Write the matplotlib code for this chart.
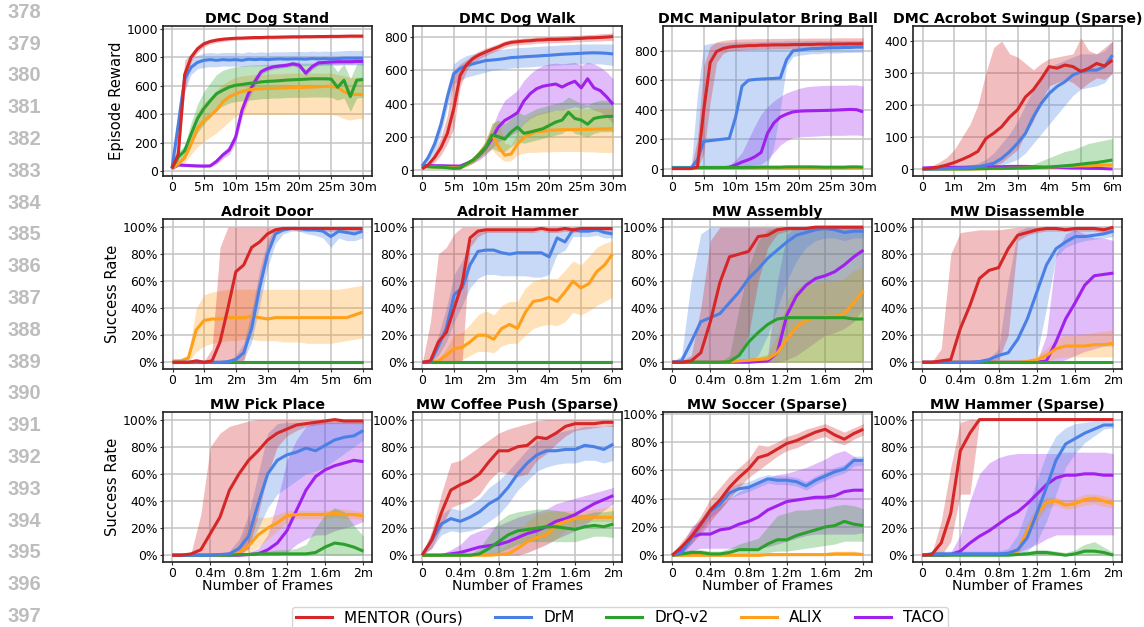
import matplotlib
matplotlib.use("Agg")
import matplotlib.pyplot as plt
from matplotlib.lines import Line2D

# x grids (million frames)
X_30M = [0, 1, 2, 3, 4, 5, 6, 7, 8, 9, 10, 11, 12, 13, 14, 15, 16, 17, 18, 19, 20,
         21, 22, 23, 24, 25, 26, 27, 28, 29, 30]
X_6M = [0, 0.25, 0.5, 0.75, 1, 1.25, 1.5, 1.75, 2, 2.25, 2.5, 2.75, 3, 3.25, 3.5,
        3.75, 4, 4.25, 4.5, 4.75, 5, 5.25, 5.5, 5.75, 6]
X_2M = [0, 0.1, 0.2, 0.3, 0.4, 0.5, 0.6, 0.7, 0.8, 0.9, 1.0, 1.1, 1.2, 1.3, 1.4,
        1.5, 1.6, 1.7, 1.8, 1.9, 2.0]

ZEROS_6M = [0, 0, 0, 0, 0, 0, 0, 0, 0, 0, 0, 0, 0, 0, 0, 0, 0, 0, 0, 0, 0, 0, 0, 0, 0]
ZEROS_2M = [0, 0, 0, 0, 0, 0, 0, 0, 0, 0, 0, 0, 0, 0, 0, 0, 0, 0, 0, 0, 0]

TICKS_30M = [0, 5, 10, 15, 20, 25, 30]
LABELS_30M = ["0", "5m", "10m", "15m", "20m", "25m", "30m"]
TICKS_6M = [0, 1, 2, 3, 4, 5, 6]
LABELS_6M = ["0", "1m", "2m", "3m", "4m", "5m", "6m"]
TICKS_2M = [0, 0.4, 0.8, 1.2, 1.6, 2.0]
LABELS_2M = ["0", "0.4m", "0.8m", "1.2m", "1.6m", "2m"]
TICKS_PCT = [0, 20, 40, 60, 80, 100]
LABELS_PCT = ["0%", "20%", "40%", "60%", "80%", "100%"]

METHODS = ["MENTOR (Ours)", "DrM", "DrQ-v2", "ALIX", "TACO"]
COLORS = {
    "MENTOR (Ours)": "#d62728",
    "DrM": "#4a80e6",
    "DrQ-v2": "#2ca02c",
    "ALIX": "#ff9f1a",
    "TACO": "#a020f0",
}
DRAW_ORDER = ["TACO", "ALIX", "DrQ-v2", "DrM", "MENTOR (Ours)"]

# ---- DMC Dog Stand ----
stand_mentor = [20, 120, 680, 800, 860, 895, 912, 922, 928, 932, 935, 936, 938, 940, 940, 942, 942, 943, 944, 945, 945, 946, 946, 947, 947, 948, 948, 949, 950, 950, 950]
stand_mentor_lo = [15, 70, 560, 770, 835, 875, 895, 905, 912, 918, 922, 924, 926, 928, 928, 930, 930, 931, 932, 933, 933, 934, 934, 935, 935, 936, 936, 937, 938, 938, 938]
stand_mentor_hi = [30, 200, 780, 830, 885, 915, 928, 936, 942, 945, 948, 948, 950, 952, 952, 954, 954, 955, 956, 957, 957, 958, 958, 959, 959, 960, 960, 961, 962, 962, 962]
stand_drm = [20, 330, 650, 730, 765, 780, 785, 780, 785, 782, 785, 780, 788, 785, 788, 785, 788, 790, 788, 790, 790, 788, 792, 790, 792, 790, 792, 795, 795, 795, 795]
stand_drm_lo = [15, 200, 560, 680, 720, 730, 735, 735, 740, 738, 740, 735, 740, 740, 742, 740, 742, 745, 742, 745, 745, 742, 748, 745, 748, 745, 745, 748, 748, 748, 745]
stand_drm_hi = [30, 450, 720, 790, 815, 830, 835, 830, 835, 835, 835, 830, 840, 835, 840, 835, 840, 840, 840, 842, 842, 840, 845, 842, 845, 842, 845, 848, 850, 850, 850]
stand_drq = [20, 100, 145, 260, 370, 440, 495, 545, 570, 592, 605, 610, 617, 622, 628, 632, 634, 637, 641, 643, 645, 647, 650, 650, 650, 648, 590, 640, 525, 640, 645]
stand_drq_lo = [15, 70, 110, 190, 270, 330, 380, 430, 460, 480, 490, 495, 500, 505, 510, 512, 515, 515, 518, 520, 520, 520, 522, 522, 522, 520, 500, 515, 420, 515, 520]
stand_drq_hi = [25, 140, 180, 340, 470, 560, 620, 680, 710, 725, 735, 740, 745, 748, 750, 752, 752, 755, 755, 758, 760, 760, 760, 760, 760, 758, 700, 755, 650, 755, 760]
stand_alix = [20, 50, 95, 190, 300, 355, 390, 430, 488, 523, 545, 560, 572, 578, 580, 582, 583, 585, 586, 588, 589, 590, 592, 594, 596, 598, 590, 560, 540, 540, 540]
stand_alix_lo = [15, 30, 60, 120, 170, 210, 240, 270, 310, 350, 390, 400, 400, 400, 400, 400, 400, 400, 400, 402, 402, 400, 400, 400, 400, 400, 390, 370, 360, 370, 370]
stand_alix_hi = [25, 80, 140, 260, 420, 480, 520, 570, 610, 640, 660, 670, 675, 680, 680, 682, 685, 685, 688, 690, 690, 690, 690, 690, 690, 690, 680, 670, 660, 660, 665]
stand_taco = [20, 45, 42, 40, 38, 37, 38, 70, 115, 150, 240, 430, 545, 630, 700, 722, 735, 740, 745, 755, 745, 690, 735, 762, 765, 768, 770, 770, 770, 772, 772]
stand_taco_lo = [15, 35, 32, 30, 28, 28, 30, 50, 90, 120, 200, 380, 500, 595, 680, 705, 718, 725, 730, 740, 725, 670, 715, 745, 748, 750, 752, 752, 752, 754, 754]
stand_taco_hi = [25, 55, 52, 50, 48, 47, 48, 90, 140, 180, 280, 470, 590, 665, 720, 740, 752, 757, 762, 772, 765, 710, 755, 780, 782, 786, 788, 788, 788, 790, 790]

# ---- DMC Dog Walk ----
walk_mentor = [5, 30, 75, 135, 220, 370, 570, 635, 672, 695, 712, 728, 742, 760, 770, 774, 778, 780, 784, 785, 788, 788, 789, 790, 793, 794, 797, 798, 800, 802, 805]
walk_mentor_lo = [0, 15, 45, 90, 160, 250, 500, 600, 645, 670, 690, 708, 722, 740, 750, 755, 758, 760, 765, 766, 768, 768, 770, 770, 773, 774, 776, 777, 778, 780, 782]
walk_mentor_hi = [10, 45, 110, 200, 330, 600, 640, 665, 695, 718, 735, 748, 762, 778, 788, 792, 796, 798, 802, 803, 806, 806, 808, 810, 812, 814, 817, 818, 822, 824, 828]
walk_drm = [20, 75, 155, 275, 440, 580, 612, 630, 640, 650, 660, 663, 667, 672, 678, 680, 683, 685, 687, 690, 692, 695, 698, 700, 702, 704, 706, 707, 706, 704, 700]
walk_drm_lo = [10, 50, 110, 220, 380, 520, 540, 560, 570, 580, 590, 600, 605, 610, 615, 618, 620, 622, 625, 628, 630, 632, 635, 636, 638, 640, 640, 640, 640, 635, 630]
walk_drm_hi = [30, 100, 200, 330, 500, 640, 670, 690, 700, 710, 718, 722, 726, 730, 735, 738, 740, 742, 745, 748, 750, 752, 755, 756, 758, 760, 760, 760, 760, 760, 760]
walk_drq = [20, 18, 16, 15, 12, 8, 10, 35, 58, 95, 135, 210, 200, 185, 228, 258, 220, 228, 238, 248, 268, 288, 300, 348, 310, 300, 275, 310, 318, 322, 323]
walk_drq_lo = [15, 12, 10, 10, 8, 4, 5, 20, 40, 70, 100, 130, 110, 110, 140, 170, 160, 170, 180, 190, 200, 210, 220, 250, 220, 210, 200, 220, 230, 230, 230]
walk_drq_hi = [25, 24, 22, 20, 16, 12, 15, 50, 76, 120, 170, 280, 300, 280, 310, 350, 330, 350, 370, 380, 390, 400, 410, 440, 420, 400, 390, 410, 420, 420, 420]
walk_alix = [20, 18, 16, 15, 14, 12, 12, 30, 55, 95, 140, 215, 140, 88, 95, 155, 195, 215, 230, 232, 238, 240, 242, 242, 243, 244, 244, 245, 246, 247, 248]
walk_alix_lo = [15, 14, 12, 12, 10, 8, 8, 20, 40, 70, 100, 120, 80, 50, 55, 90, 100, 105, 105, 108, 108, 110, 110, 110, 110, 110, 108, 108, 105, 105, 105]
walk_alix_hi = [25, 22, 20, 18, 18, 16, 16, 40, 70, 120, 180, 280, 300, 160, 150, 230, 290, 320, 340, 350, 355, 360, 365, 365, 368, 370, 370, 372, 372, 375, 375]
walk_taco = [25, 25, 24, 24, 23, 22, 22, 38, 55, 88, 130, 190, 258, 298, 320, 345, 415, 460, 490, 505, 512, 518, 500, 520, 535, 495, 550, 495, 478, 440, 395]
walk_taco_lo = [15, 15, 15, 15, 14, 14, 14, 25, 40, 60, 90, 130, 170, 190, 210, 230, 280, 310, 330, 340, 350, 360, 360, 370, 380, 370, 380, 360, 350, 320, 280]
walk_taco_hi = [35, 35, 34, 33, 32, 31, 30, 50, 70, 115, 170, 250, 350, 420, 450, 480, 540, 580, 610, 630, 640, 645, 640, 645, 650, 630, 650, 640, 620, 590, 550]

# ---- DMC Manipulator Bring Ball ----
ball_mentor = [0, 0, 0, 0, 10, 400, 720, 795, 815, 825, 830, 832, 835, 835, 838, 838, 840, 840, 840, 842, 842, 843, 843, 845, 845, 845, 846, 846, 847, 847, 848]
ball_mentor_lo = [0, 0, 0, 0, 0, 100, 450, 720, 780, 800, 800, 805, 808, 808, 810, 810, 812, 812, 812, 815, 815, 815, 815, 818, 818, 818, 818, 820, 820, 820, 820]
ball_mentor_hi = [5, 5, 5, 5, 200, 700, 830, 860, 870, 875, 878, 880, 880, 882, 882, 882, 884, 884, 884, 885, 885, 885, 886, 886, 886, 886, 888, 888, 888, 888, 888]
ball_drm = [5, 5, 5, 5, 60, 185, 190, 195, 200, 205, 350, 560, 600, 605, 608, 610, 612, 615, 740, 800, 805, 810, 815, 815, 818, 820, 820, 822, 822, 825, 825]
ball_drm_lo = [0, 0, 0, 0, 0, 0, 0, 0, 0, 0, 0, 0, 0, 0, 0, 20, 150, 400, 700, 760, 770, 775, 780, 780, 785, 785, 785, 788, 788, 790, 790]
ball_drm_hi = [8, 8, 8, 8, 500, 840, 850, 855, 855, 858, 860, 860, 862, 862, 862, 865, 865, 865, 868, 868, 868, 870, 870, 870, 870, 870, 870, 870, 870, 870, 870]
ball_drq = [8, 8, 8, 8, 8, 8, 8, 8, 8, 8, 8, 8, 9, 9, 10, 10, 10, 10, 12, 12, 12, 12, 12, 11, 10, 10, 10, 10, 12, 12, 10]
ball_drq_lo = [3, 3, 3, 3, 3, 3, 3, 3, 3, 3, 3, 3, 4, 4, 4, 4, 4, 4, 5, 5, 5, 5, 5, 5, 4, 4, 4, 4, 5, 5, 4]
ball_drq_hi = [14, 14, 14, 14, 14, 14, 14, 14, 14, 14, 14, 14, 15, 15, 16, 16, 16, 16, 19, 19, 19, 19, 19, 18, 16, 16, 16, 16, 19, 19, 16]
ball_alix = [2, 2, 2, 2, 2, 2, 2, 2, 2, 2, 2, 2, 2, 2, 2, 2, 2, 2, 2, 2, 2, 2, 2, 2, 2, 2, 2, 2, 3, 3, 3]
ball_alix_lo = [0, 0, 0, 0, 0, 0, 0, 0, 0, 0, 0, 0, 0, 0, 0, 0, 0, 0, 0, 0, 0, 0, 0, 0, 0, 0, 0, 0, 0, 0, 0]
ball_alix_hi = [5, 5, 5, 5, 5, 5, 5, 5, 5, 5, 5, 5, 5, 5, 5, 5, 5, 5, 5, 5, 5, 5, 5, 5, 5, 5, 5, 5, 6, 6, 6]
ball_taco = [5, 5, 5, 5, 5, 5, 5, 5, 6, 10, 25, 45, 60, 80, 110, 240, 310, 350, 370, 385, 390, 392, 393, 394, 395, 396, 398, 400, 402, 400, 385]
ball_taco_lo = [2, 2, 2, 2, 2, 2, 2, 2, 2, 4, 10, 15, 20, 25, 30, 60, 110, 160, 190, 210, 215, 218, 220, 222, 225, 226, 226, 226, 228, 228, 225]
ball_taco_hi = [8, 8, 8, 8, 8, 8, 8, 8, 12, 20, 60, 110, 200, 290, 370, 420, 460, 490, 515, 530, 545, 555, 560, 562, 565, 566, 566, 566, 568, 568, 560]

# ---- DMC Acrobot Swingup (Sparse) ----
acro_mentor = [0, 2, 6, 12, 20, 30, 41, 55, 95, 112, 132, 162, 185, 225, 248, 282, 320, 315, 325, 320, 305, 315, 330, 322, 340]
acro_mentor_lo = [0, 0, 0, 0, 0, 0, 0, 0, 5, 10, 20, 40, 60, 110, 150, 210, 260, 270, 280, 270, 250, 270, 285, 280, 300]
acro_mentor_hi = [2, 8, 20, 35, 60, 100, 140, 200, 300, 380, 400, 360, 350, 330, 310, 330, 345, 350, 355, 360, 410, 370, 360, 380, 400]
acro_drm = [0, 0, 0, 1, 2, 3, 4, 7, 12, 18, 33, 54, 80, 111, 163, 205, 236, 258, 273, 294, 304, 309, 309, 320, 356]
acro_drm_lo = [0, 0, 0, 0, 0, 0, 0, 2, 4, 6, 12, 20, 30, 50, 80, 110, 140, 170, 200, 230, 250, 255, 260, 270, 300]
acro_drm_hi = [2, 2, 2, 4, 6, 8, 12, 18, 30, 50, 80, 110, 150, 200, 250, 290, 320, 330, 340, 350, 360, 360, 360, 370, 400]
acro_drq = [0, 0, 0, 0, 0, 0, 0, 1, 1, 2, 2, 2, 3, 3, 4, 5, 6, 8, 10, 12, 15, 18, 20, 24, 28]
acro_drq_lo = [0, 0, 0, 0, 0, 0, 0, 0, 0, 0, 0, 0, 0, 0, 0, 0, 1, 2, 3, 4, 5, 6, 8, 10, 12]
acro_drq_hi = [1, 1, 1, 1, 1, 1, 2, 3, 3, 4, 5, 6, 8, 10, 15, 25, 35, 45, 55, 60, 70, 80, 85, 90, 95]
acro_alix = [0, 0, 0, 0, 0, 0, 0, 0, 1, 1, 1, 2, 2, 3, 4, 5, 6, 7, 8, 9, 10, 10, 11, 12, 12]
acro_alix_lo = [0, 0, 0, 0, 0, 0, 0, 0, 0, 0, 0, 0, 0, 1, 1, 2, 3, 4, 4, 5, 6, 6, 7, 8, 8]
acro_alix_hi = [1, 1, 1, 1, 1, 1, 1, 1, 2, 2, 2, 4, 4, 5, 7, 8, 9, 10, 12, 13, 14, 14, 15, 16, 16]
acro_taco = [3, 4, 4, 5, 5, 5, 6, 6, 6, 7, 7, 8, 8, 8, 7, 6, 5, 5, 4, 3, 3, 2, 2, 1, 0]
acro_taco_lo = [1, 2, 2, 3, 3, 3, 4, 4, 4, 5, 5, 6, 6, 6, 5, 4, 3, 3, 2, 1, 1, 0, 0, 0, 0]
acro_taco_hi = [5, 6, 6, 7, 7, 7, 8, 8, 8, 9, 9, 10, 10, 10, 9, 8, 7, 7, 6, 5, 5, 4, 4, 3, 2]

# ---- Adroit Door ----
door_mentor = [0, 0, 0, 1, 0, 1, 15, 40, 67, 72, 85, 89, 95, 98, 99, 99, 99, 99, 99, 99, 99, 99, 99, 99, 99]
door_mentor_lo = [0, 0, 0, 0, 0, 0, 0, 0, 0, 0, 30, 60, 85, 95, 97, 98, 97, 97, 97, 97, 97, 97, 97, 97, 97]
door_mentor_hi = [0, 0, 0, 3, 1, 10, 85, 100, 100, 100, 100, 100, 100, 100, 100, 100, 100, 100, 100, 100, 100, 100, 100, 100, 100]
door_drm = [0, 0, 0, 0, 0, 0, 0, 0.5, 2, 7, 25, 55, 80, 95, 98, 99, 99, 98, 98, 97, 93, 97, 96, 95, 97]
door_drm_lo = [0, 0, 0, 0, 0, 0, 0, 0, 0, 2, 15, 42, 70, 88, 95, 97, 97, 95, 94, 92, 85, 92, 90, 90, 92]
door_drm_hi = [0, 0, 0, 0, 0, 0, 0, 1, 5, 14, 38, 68, 90, 100, 100, 100, 100, 100, 100, 100, 99, 100, 100, 99, 100]
door_alix = [1, 1, 3, 24, 31, 32, 32, 33, 33, 33, 34, 33, 32, 33, 33, 33, 33, 33, 33, 33, 33, 33, 33, 35, 37]
door_alix_lo = [0, 0, 0, 8, 12, 14, 15, 16, 16, 17, 17, 16, 16, 16, 15, 15, 15, 14, 14, 14, 14, 15, 16, 17, 18]
door_alix_hi = [2, 2, 6, 40, 50, 52, 53, 54, 54, 54, 54, 54, 54, 54, 54, 54, 54, 54, 54, 54, 54, 54, 55, 56, 57]

# ---- Adroit Hammer ----
ahammer_mentor = [0, 1, 15, 22, 40, 58, 92, 97, 98, 98, 98, 98, 98, 98, 98, 99, 98, 98, 99, 98, 99, 99, 99, 99, 99]
ahammer_mentor_lo = [0, 0, 0, 0, 0, 0, 85, 93, 96, 96, 96, 96, 96, 96, 96, 97, 96, 96, 97, 96, 97, 97, 97, 97, 97]
ahammer_mentor_hi = [0, 30, 80, 85, 95, 100, 100, 100, 100, 100, 100, 100, 100, 100, 100, 100, 100, 100, 100, 100, 100, 100, 100, 100, 100]
ahammer_drm = [0, 0, 12, 25, 50, 55, 72, 82, 83, 83, 81, 80, 81, 81, 81, 81, 78, 92, 89, 98, 97, 97, 98, 96, 95]
ahammer_drm_lo = [0, 0, 5, 15, 30, 42, 55, 62, 65, 65, 64, 64, 64, 64, 63, 63, 65, 80, 83, 93, 93, 93, 94, 92, 92]
ahammer_drm_hi = [0, 2, 20, 40, 65, 75, 90, 96, 97, 97, 97, 97, 97, 97, 97, 97, 97, 99, 98, 100, 100, 100, 100, 99, 98]
ahammer_alix = [0, 0, 1, 5, 10, 11, 15, 20, 20, 17, 25, 28, 25, 37, 45, 46, 48, 45, 52, 60, 55, 58, 67, 72, 80]
ahammer_alix_lo = [0, 0, 0, 0, 0, 2, 5, 8, 8, 7, 12, 14, 14, 20, 25, 27, 28, 27, 30, 37, 35, 38, 42, 45, 48]
ahammer_alix_hi = [0, 0, 2, 10, 20, 22, 28, 35, 38, 35, 42, 45, 45, 55, 60, 62, 62, 62, 68, 75, 72, 78, 85, 88, 90]

# ---- MW Assembly ----
asm_mentor = [0, 0, 1, 7, 30, 59, 78, 80, 82, 93, 94, 98, 99, 99, 99, 100, 100, 100, 100, 100, 100]
asm_mentor_lo = [0, 0, 0, 0, 0, 0, 0, 5, 20, 60, 85, 95, 97, 98, 98, 99, 99, 99, 99, 99, 99]
asm_mentor_hi = [0, 1, 5, 40, 90, 100, 100, 100, 100, 100, 100, 100, 100, 100, 100, 100, 100, 100, 100, 100, 100]
asm_drm = [0, 1, 15, 30, 33, 36, 44, 52, 62, 69, 77, 83, 89, 94, 96, 98, 99, 98, 96, 97, 97]
asm_drm_lo = [0, 0, 0, 0, 0, 0, 0, 0, 0, 5, 20, 40, 60, 75, 85, 90, 92, 92, 90, 92, 92]
asm_drm_hi = [0, 5, 60, 95, 100, 100, 100, 100, 100, 100, 100, 100, 100, 100, 100, 100, 100, 100, 100, 100, 100]
asm_drq = [0, 0, 0, 0, 0, 0, 0.5, 5, 15, 22, 28, 32, 33, 33, 33, 33, 33, 33, 33, 32, 32]
asm_drq_hi = [0, 0, 0, 0, 0, 0, 5, 40, 70, 90, 98, 100, 100, 100, 100, 100, 100, 100, 100, 100, 100]
asm_alix = [0, 0, 0, 0, 0, 0, 0.5, 1, 1.5, 2, 2.5, 7, 17, 26, 31, 33, 34, 34, 36, 44, 53]
asm_alix_hi = [0, 0, 0, 0, 0, 0, 1, 2, 3, 4, 6, 20, 45, 55, 58, 59, 60, 60, 62, 68, 70]
asm_taco = [0, 0, 0, 0, 0, 0, 0, 0, 0, 0.5, 1, 7, 35, 49, 57, 62, 64, 67, 72, 78, 83]
asm_taco_lo = [0, 0, 0, 0, 0, 0, 0, 0, 0, 0, 0, 0, 2, 5, 10, 15, 20, 22, 25, 30, 40]
asm_taco_hi = [0, 0, 0, 0, 0, 0, 0, 0, 0, 2, 5, 60, 95, 100, 100, 100, 100, 100, 100, 100, 100]

# ---- MW Disassemble ----
dis_mentor = [0, 0, 1, 2, 25, 42, 62, 68, 70, 84, 94, 96, 98, 99, 99, 98, 99, 99, 99, 98, 100]
dis_mentor_lo = [0, 0, 0, 0, 0, 0, 0, 0, 2, 20, 90, 94, 96, 97, 97, 97, 97, 97, 97, 96, 97]
dis_mentor_hi = [0, 0, 10, 80, 96, 97, 98, 98, 98, 99, 100, 100, 100, 100, 100, 100, 100, 100, 100, 100, 100]
dis_drm = [0, 0, 0, 0, 0, 0, 0.5, 2, 5, 7, 17, 32, 52, 72, 84, 89, 93, 93, 94, 95, 97]
dis_drm_lo = [0, 0, 0, 0, 0, 0, 0, 0, 0, 0, 0, 0, 5, 40, 78, 85, 88, 90, 91, 92, 93]
dis_drm_hi = [0, 0, 0, 0, 0, 0, 1, 3, 10, 60, 97, 100, 100, 100, 100, 100, 100, 100, 100, 100, 100]
dis_alix = [0, 0, 0, 0, 0, 0, 0, 0, 0, 0, 0, 0.5, 2, 5, 10, 12, 12, 12, 13, 13, 14]
dis_alix_lo = [0, 0, 0, 0, 0, 0, 0, 0, 0, 0, 0, 0, 0, 1, 3, 4, 4, 4, 4, 4, 4]
dis_alix_hi = [0, 0, 0, 0, 0, 0, 0, 0, 0, 0, 0, 1, 5, 10, 18, 20, 20, 21, 22, 23, 24]
dis_taco = [0, 0, 0, 0, 0, 0, 0, 0, 0, 0, 0, 0, 0, 1, 15, 32, 44, 57, 64, 65, 66]
dis_taco_lo = [0, 0, 0, 0, 0, 0, 0, 0, 0, 0, 0, 0, 0, 0, 0, 2, 5, 8, 10, 12, 12]
dis_taco_hi = [0, 0, 0, 0, 0, 0, 0, 0, 0, 0, 0, 0, 0, 20, 80, 95, 98, 95, 92, 92, 90]

# ---- MW Pick Place ----
pick_mentor = [0, 0, 1, 4, 16, 28, 48, 60, 70, 77, 85, 90, 93, 96, 97, 98, 99, 100, 99, 99, 99]
pick_mentor_lo = [0, 0, 0, 0, 0, 0, 0, 0, 5, 30, 60, 80, 88, 92, 95, 96, 97, 97, 97, 97, 97]
pick_mentor_hi = [0, 0, 2, 30, 80, 90, 95, 97, 99, 100, 100, 100, 100, 100, 100, 100, 100, 100, 100, 100, 100]
pick_drm = [0, 0, 0, 0, 0, 0.5, 1, 5, 14, 38, 60, 70, 74, 76, 79, 77, 81, 85, 87, 88, 92]
pick_drm_lo = [0, 0, 0, 0, 0, 0, 0, 1, 5, 20, 35, 45, 50, 55, 60, 62, 65, 70, 75, 80, 85]
pick_drm_hi = [0, 0, 0, 0, 0, 1, 3, 12, 30, 60, 90, 97, 98, 98, 98, 98, 99, 99, 99, 99, 99]
pick_drq = [0, 0, 0, 0, 0, 0, 0, 0.5, 0.5, 1, 1, 1, 1, 1, 1, 2, 6, 9, 8, 6, 3]
pick_drq_hi = [0, 0, 0, 0, 0, 0, 1, 2, 2, 3, 3, 4, 4, 5, 8, 20, 30, 35, 32, 22, 14]
pick_alix = [0, 0, 0, 0, 0, 0, 0.5, 2, 7, 15, 20, 24, 29, 30, 30, 30, 30, 31, 30, 30, 29]
pick_alix_lo = [0, 0, 0, 0, 0, 0, 0, 0, 2, 6, 12, 18, 25, 27, 27, 27, 27, 28, 27, 27, 26]
pick_alix_hi = [0, 0, 0, 0, 0, 0, 1, 8, 25, 28, 28, 30, 33, 33, 33, 33, 33, 34, 34, 33, 32]
pick_taco = [0, 0, 0, 0, 0, 0, 0, 0, 0.5, 1, 4, 9, 18, 33, 48, 58, 63, 66, 68, 70, 69]
pick_taco_lo = [0, 0, 0, 0, 0, 0, 0, 0, 0, 0, 0, 0, 2, 8, 12, 15, 15, 18, 20, 22, 25]
pick_taco_hi = [0, 0, 0, 0, 0, 0, 0, 0, 2, 5, 15, 40, 70, 85, 95, 98, 98, 98, 98, 98, 98]

# ---- MW Coffee Push (Sparse) ----
coffee_mentor = [0, 11, 31, 48, 52, 55, 60, 69, 77, 77, 80, 81, 87, 86, 90, 95, 97, 97, 97, 98, 98]
coffee_mentor_lo = [0, 5, 20, 35, 38, 40, 45, 55, 62, 60, 58, 60, 70, 75, 82, 88, 92, 93, 94, 95, 95]
coffee_mentor_hi = [0, 18, 45, 68, 70, 75, 80, 85, 90, 93, 95, 97, 99, 100, 100, 100, 100, 100, 100, 100, 100]
coffee_drm = [0, 11, 23, 27, 25, 28, 32, 38, 42, 50, 60, 68, 74, 77, 77, 78, 78, 81, 80, 78, 82]
coffee_drm_lo = [0, 5, 15, 18, 17, 18, 20, 25, 30, 38, 48, 55, 62, 65, 67, 68, 68, 70, 70, 68, 70]
coffee_drm_hi = [0, 16, 30, 35, 33, 37, 42, 50, 55, 62, 70, 78, 84, 88, 90, 92, 93, 95, 95, 95, 96]
coffee_drq = [0, 0, 0, 0, 0, 0, 1, 5, 10, 15, 18, 19, 20, 21, 21, 20, 19, 21, 22, 21, 23]
coffee_drq_lo = [0, 0, 0, 0, 0, 0, 0, 0, 2, 5, 8, 10, 10, 10, 10, 10, 10, 12, 14, 14, 13]
coffee_drq_hi = [0, 0, 0, 0, 0, 1, 5, 15, 25, 30, 32, 33, 34, 34, 33, 32, 30, 30, 32, 32, 33]
coffee_alix = [0, 0, 0, 0, 0, 0, 0, 0, 0.5, 1, 5, 10, 13, 15, 22, 25, 27, 28, 28, 28, 28]
coffee_alix_lo = [0, 0, 0, 0, 0, 0, 0, 0, 0, 0, 0, 2, 5, 8, 12, 18, 22, 24, 25, 25, 25]
coffee_alix_hi = [0, 0, 0, 0, 0, 0, 0, 1, 3, 8, 15, 25, 30, 32, 33, 33, 33, 33, 34, 35, 36]
coffee_taco = [0, 0, 0, 1, 2, 4, 6, 7, 8, 10, 13, 16, 18, 21, 25, 27, 30, 34, 38, 41, 44]
coffee_taco_lo = [0, 0, 0, 0, 0, 0, 0, 0, 0, 0, 0, 2, 5, 8, 12, 15, 18, 22, 28, 33, 38]
coffee_taco_hi = [0, 0, 1, 4, 8, 15, 18, 20, 22, 25, 28, 30, 32, 34, 38, 40, 42, 44, 46, 48, 50]

# ---- MW Soccer (Sparse) ----
soccer_mentor = [0, 6, 13, 22, 32, 39, 48, 55, 61, 69, 71, 75, 79, 81, 84, 87, 89, 85, 82, 86, 89]
soccer_mentor_lo = [0, 2, 8, 15, 24, 32, 40, 48, 55, 60, 65, 70, 74, 76, 79, 82, 84, 80, 78, 82, 85]
soccer_mentor_hi = [0, 10, 18, 28, 40, 48, 56, 62, 68, 78, 77, 80, 84, 86, 89, 91, 93, 90, 87, 90, 93]
soccer_drm = [0, 2, 12, 22, 31, 36, 44, 47, 48, 51, 54, 53, 53, 52, 49, 53, 56, 59, 61, 67, 67]
soccer_drm_lo = [0, 0, 8, 18, 27, 32, 40, 43, 45, 48, 51, 50, 50, 49, 46, 50, 53, 56, 58, 63, 64]
soccer_drm_hi = [0, 4, 16, 26, 35, 40, 48, 51, 52, 55, 57, 56, 56, 55, 52, 56, 59, 62, 64, 70, 70]
soccer_drq = [0, 1, 2, 2, 1, 1, 2, 4, 4, 4, 8, 11, 11, 14, 16, 18, 20, 21, 24, 22, 21]
soccer_drq_lo = [0, 0, 0, 0, 0, 0, 0, 1, 1, 1, 2, 3, 3, 4, 5, 6, 7, 8, 10, 10, 10]
soccer_drq_hi = [0, 2, 4, 4, 3, 3, 5, 8, 10, 12, 20, 28, 30, 32, 32, 33, 33, 35, 36, 35, 33]
soccer_alix = [0, 0, 0, 0, 0, 0, 0, 0, 0, 0, 0.5, 0.5, 0.5, 0.5, 0.5, 0.5, 0.5, 1, 1, 1, 0.5]
soccer_alix_hi = [0, 1, 1, 1, 1, 1, 1, 1, 1, 1, 2, 2, 2, 2, 2, 2, 2, 3, 3, 3, 2]
soccer_taco = [0, 3, 13, 15, 15, 18, 19, 22, 24, 27, 32, 35, 38, 39, 40, 41, 41, 42, 45, 46, 46]
soccer_taco_lo = [0, 0, 3, 5, 5, 5, 5, 5, 5, 5, 6, 8, 10, 12, 14, 15, 15, 15, 15, 15, 16]
soccer_taco_hi = [0, 6, 20, 25, 30, 35, 40, 45, 48, 52, 55, 57, 58, 60, 62, 65, 68, 72, 74, 70, 65]

# ---- MW Hammer (Sparse) ----
mwham_mentor = [0, 0.5, 9, 31, 77, 90, 100, 100, 100, 100, 100, 100, 100, 100, 100, 100, 100, 100, 100, 100, 100]
mwham_mentor_lo = [0, 0, 0, 10, 45, 45, 99, 100, 100, 100, 100, 100, 100, 100, 100, 100, 100, 100, 100, 100, 100]
mwham_mentor_hi = [0, 1, 25, 65, 98, 100, 100, 100, 100, 100, 100, 100, 100, 100, 100, 100, 100, 100, 100, 100, 100]
mwham_drm = [0, 1, 1, 1, 1, 1, 1, 1, 1, 1.5, 4, 13, 31, 50, 70, 82, 86, 90, 93, 96, 96]
mwham_drm_lo = [0, 0, 0, 0, 0, 0, 0, 0, 0, 0, 0, 3, 10, 25, 45, 65, 75, 83, 88, 93, 94]
mwham_drm_hi = [0, 3, 3, 3, 3, 3, 3, 3, 3, 5, 15, 35, 55, 75, 88, 94, 97, 98, 99, 99, 99]
mwham_drq = [0, 0, 0, 0, 0, 0, 0, 0, 0, 0, 0.5, 1, 2, 2, 1, 0, 1, 3, 3, 2, 0]
mwham_drq_hi = [0, 0, 0, 0, 0, 0, 0, 0, 1, 1, 2, 3, 4, 4, 3, 2, 4, 8, 10, 6, 2]
mwham_alix = [0, 0.5, 0.5, 0.5, 0.5, 0.5, 0.5, 0.5, 0.5, 1, 3, 18, 30, 39, 40, 37, 38, 41, 42, 40, 38]
mwham_alix_lo = [0, 0, 0, 0, 0, 0, 0, 0, 0, 0, 1, 12, 25, 35, 37, 34, 35, 37, 38, 36, 35]
mwham_alix_hi = [0, 1, 1, 1, 1, 1, 1, 1, 1, 2, 6, 24, 36, 43, 43, 40, 42, 45, 45, 44, 42]
mwham_taco = [0, 0, 0, 0.5, 3, 9, 14, 18, 23, 28, 32, 38, 45, 52, 57, 59, 59, 60, 60, 59, 59]
mwham_taco_lo = [0, 0, 0, 0, 0, 0, 0, 0, 0, 1, 2, 5, 8, 12, 15, 15, 15, 15, 15, 15, 15]
mwham_taco_hi = [0, 0, 0, 2, 15, 40, 60, 68, 72, 74, 75, 75, 75, 75, 75, 76, 76, 76, 76, 76, 75]


def series(mentor, drm, drq, alix, taco):
    return {"MENTOR (Ours)": mentor, "DrM": drm, "DrQ-v2": drq, "ALIX": alix, "TACO": taco}


PANELS = [
    ("DMC Dog Stand", X_30M, TICKS_30M, LABELS_30M, (-1.4, 31.4), (-33, 1021),
     [0, 200, 400, 600, 800, 1000], ["0", "200", "400", "600", "800", "1000"],
     series((stand_mentor, stand_mentor_lo, stand_mentor_hi),
            (stand_drm, stand_drm_lo, stand_drm_hi),
            (stand_drq, stand_drq_lo, stand_drq_hi),
            (stand_alix, stand_alix_lo, stand_alix_hi),
            (stand_taco, stand_taco_lo, stand_taco_hi))),
    ("DMC Dog Walk", X_30M, TICKS_30M, LABELS_30M, (-1.4, 31.4), (-38, 869),
     [0, 200, 400, 600, 800], ["0", "200", "400", "600", "800"],
     series((walk_mentor, walk_mentor_lo, walk_mentor_hi),
            (walk_drm, walk_drm_lo, walk_drm_hi),
            (walk_drq, walk_drq_lo, walk_drq_hi),
            (walk_alix, walk_alix_lo, walk_alix_hi),
            (walk_taco, walk_taco_lo, walk_taco_hi))),
    ("DMC Manipulator Bring Ball", X_30M, TICKS_30M, LABELS_30M, (-1.4, 31.4), (-50, 968),
     [0, 200, 400, 600, 800], ["0", "200", "400", "600", "800"],
     series((ball_mentor, ball_mentor_lo, ball_mentor_hi),
            (ball_drm, ball_drm_lo, ball_drm_hi),
            (ball_drq, ball_drq_lo, ball_drq_hi),
            (ball_alix, ball_alix_lo, ball_alix_hi),
            (ball_taco, ball_taco_lo, ball_taco_hi))),
    ("DMC Acrobot Swingup (Sparse)", X_6M, TICKS_6M, LABELS_6M, (-0.3, 6.3), (-22, 447),
     [0, 100, 200, 300, 400], ["0", "100", "200", "300", "400"],
     series((acro_mentor, acro_mentor_lo, acro_mentor_hi),
            (acro_drm, acro_drm_lo, acro_drm_hi),
            (acro_drq, acro_drq_lo, acro_drq_hi),
            (acro_alix, acro_alix_lo, acro_alix_hi),
            (acro_taco, acro_taco_lo, acro_taco_hi))),
    ("Adroit Door", X_6M, TICKS_6M, LABELS_6M, (-0.3, 6.3), (-5, 106),
     TICKS_PCT, LABELS_PCT,
     series((door_mentor, door_mentor_lo, door_mentor_hi),
            (door_drm, door_drm_lo, door_drm_hi),
            (ZEROS_6M, ZEROS_6M, ZEROS_6M),
            (door_alix, door_alix_lo, door_alix_hi),
            (ZEROS_6M, ZEROS_6M, ZEROS_6M))),
    ("Adroit Hammer", X_6M, TICKS_6M, LABELS_6M, (-0.3, 6.3), (-5, 106),
     TICKS_PCT, LABELS_PCT,
     series((ahammer_mentor, ahammer_mentor_lo, ahammer_mentor_hi),
            (ahammer_drm, ahammer_drm_lo, ahammer_drm_hi),
            (ZEROS_6M, ZEROS_6M, ZEROS_6M),
            (ahammer_alix, ahammer_alix_lo, ahammer_alix_hi),
            (ZEROS_6M, ZEROS_6M, ZEROS_6M))),
    ("MW Assembly", X_2M, TICKS_2M, LABELS_2M, (-0.095, 2.09), (-5, 106),
     TICKS_PCT, LABELS_PCT,
     series((asm_mentor, asm_mentor_lo, asm_mentor_hi),
            (asm_drm, asm_drm_lo, asm_drm_hi),
            (asm_drq, ZEROS_2M, asm_drq_hi),
            (asm_alix, ZEROS_2M, asm_alix_hi),
            (asm_taco, asm_taco_lo, asm_taco_hi))),
    ("MW Disassemble", X_2M, TICKS_2M, LABELS_2M, (-0.095, 2.09), (-5, 106),
     TICKS_PCT, LABELS_PCT,
     series((dis_mentor, dis_mentor_lo, dis_mentor_hi),
            (dis_drm, dis_drm_lo, dis_drm_hi),
            (ZEROS_2M, ZEROS_2M, ZEROS_2M),
            (dis_alix, dis_alix_lo, dis_alix_hi),
            (dis_taco, dis_taco_lo, dis_taco_hi))),
    ("MW Pick Place", X_2M, TICKS_2M, LABELS_2M, (-0.095, 2.09), (-5, 105.6),
     TICKS_PCT, LABELS_PCT,
     series((pick_mentor, pick_mentor_lo, pick_mentor_hi),
            (pick_drm, pick_drm_lo, pick_drm_hi),
            (pick_drq, ZEROS_2M, pick_drq_hi),
            (pick_alix, pick_alix_lo, pick_alix_hi),
            (pick_taco, pick_taco_lo, pick_taco_hi))),
    ("MW Coffee Push (Sparse)", X_2M, TICKS_2M, LABELS_2M, (-0.095, 2.09), (-5, 105.6),
     TICKS_PCT, LABELS_PCT,
     series((coffee_mentor, coffee_mentor_lo, coffee_mentor_hi),
            (coffee_drm, coffee_drm_lo, coffee_drm_hi),
            (coffee_drq, coffee_drq_lo, coffee_drq_hi),
            (coffee_alix, coffee_alix_lo, coffee_alix_hi),
            (coffee_taco, coffee_taco_lo, coffee_taco_hi))),
    ("MW Soccer (Sparse)", X_2M, TICKS_2M, LABELS_2M, (-0.095, 2.09), (-4.7, 101.2),
     TICKS_PCT, LABELS_PCT,
     series((soccer_mentor, soccer_mentor_lo, soccer_mentor_hi),
            (soccer_drm, soccer_drm_lo, soccer_drm_hi),
            (soccer_drq, soccer_drq_lo, soccer_drq_hi),
            (soccer_alix, ZEROS_2M, soccer_alix_hi),
            (soccer_taco, soccer_taco_lo, soccer_taco_hi))),
    ("MW Hammer (Sparse)", X_2M, TICKS_2M, LABELS_2M, (-0.095, 2.09), (-5, 105.6),
     TICKS_PCT, LABELS_PCT,
     series((mwham_mentor, mwham_mentor_lo, mwham_mentor_hi),
            (mwham_drm, mwham_drm_lo, mwham_drm_hi),
            (mwham_drq, ZEROS_2M, mwham_drq_hi),
            (mwham_alix, mwham_alix_lo, mwham_alix_hi),
            (mwham_taco, mwham_taco_lo, mwham_taco_hi))),
]

W, H = 1144, 627
COL_LEFT = [163, 413, 663, 913]
ROW_TOP = [26, 219, 412]
AX_W, AX_H = 209, 150

plt.rcParams["font.family"] = "DejaVu Sans"
fig = plt.figure(figsize=(W / 100, H / 100), dpi=100)

for idx, (title, x, xt, xl, xlim, ylim, yt, yl, data) in enumerate(PANELS):
    row, col = divmod(idx, 4)
    left = COL_LEFT[col] / W
    bottom = 1 - (ROW_TOP[row] + AX_H) / H
    ax = fig.add_axes([left, bottom, AX_W / W, AX_H / H])
    for name in DRAW_ORDER:
        mean, lo, hi = data[name]
        ax.fill_between(x, lo, hi, color=COLORS[name], alpha=0.3, lw=0)
        ax.plot(x, mean, color=COLORS[name], lw=2.2, solid_capstyle="butt")
    ax.set_xlim(*xlim)
    ax.set_ylim(*ylim)
    ax.set_xticks(xt)
    ax.set_xticklabels(xl)
    ax.set_yticks(yt)
    ax.set_yticklabels(yl)
    ax.tick_params(labelsize=8.9, length=2.5, width=0.8, pad=1.2, color="#333333")
    ax.grid(True, color="#c4c4c4", lw=1.1)
    ax.set_axisbelow(True)
    for sp in ax.spines.values():
        sp.set_color("#222222")
        sp.set_linewidth(1.2)
    ax.set_title(title, fontsize=10.2, fontweight="bold", pad=2.5)
    if col == 0:
        ax.set_ylabel("Episode Reward" if row == 0 else "Success Rate",
                      fontsize=10.6, labelpad=2)
    if row == 2:
        ax.set_xlabel("Number of Frames", fontsize=10.2, labelpad=-1)

handles = [Line2D([0], [0], color=COLORS[m], lw=2.2) for m in METHODS]
fig.legend(handles, METHODS, loc="upper center", bbox_to_anchor=(620 / W, 1 - 599 / H),
           ncol=5, fontsize=11, frameon=True, handlelength=2.35, columnspacing=2.1,
           borderpad=0.25, edgecolor="#cccccc")

# line numbers of the page margin
for i in range(20):
    fig.text(7 / W, 1 - (12.3 + i * 31.8) / H, str(378 + i), ha="left", va="center",
             fontsize=14.5, fontweight="bold", color="#bdbdbd", family="Liberation Sans")

fig.savefig("out.png", dpi=100)
